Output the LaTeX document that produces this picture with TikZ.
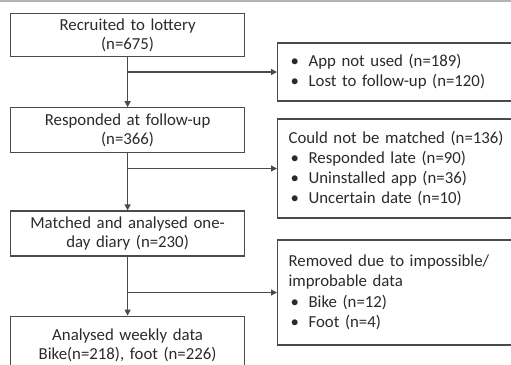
\documentclass[tikz,border=0pt]{standalone}
\usepackage{fontspec}
\setmainfont{Carlito}
\usetikzlibrary{positioning, arrows.meta}
\definecolor{frame}{HTML}{4A4A4A}
\definecolor{ink}{HTML}{2A2A2A}
\definecolor{topline}{HTML}{B4B4B4}
\newcommand{\bulletitem}{\hspace*{2pt}\makebox[18pt][l]{\textbullet}}

\begin{document}
\begin{tikzpicture}[
    x=1pt, y=-1pt,
    >={Triangle[length=6pt, width=6pt]},
    node distance=50pt and 33pt,
    mainbox/.style={draw=frame, line width=1.2pt, text width=222pt, inner xsep=6pt,
                    inner ysep=0pt, align=center, text=ink,
                    font=\fontsize{16.8}{19.5}\selectfont},
    sidebox/.style={draw=frame, line width=1.2pt, text width=221pt, inner xsep=11pt,
                    inner ysep=0pt, align=left, text=ink,
                    font=\fontsize{16.8}{20}\selectfont},
    flow/.style={->, draw=frame, line width=1.2pt},
]
\useasboundingbox (0,0) rectangle (511,364);
\clip (0,0) rectangle (511,364);
\fill[topline] (0,0) rectangle (511,2);

% main column
\node[mainbox, minimum height=43pt, anchor=north west] (recruited) at (10,13)
    {Recruited to lottery\\(n=675)};
\node[mainbox, minimum height=45pt, below=50pt of recruited] (responded)
    {Responded at follow-up\\(n=366)};
\node[mainbox, minimum height=45pt, below=57pt of responded] (matched)
    {Matched and analysed one-\\day diary (n=230)};
\node[mainbox, minimum height=58pt, below=59pt of matched] (weekly)
    {Analysed weekly data\\Bike(n=218), foot (n=226)};

% exclusions
\node[sidebox, minimum height=58pt, anchor=west] (notused) at (277,72)
    {\bulletitem App not used (n=189)\\\bulletitem Lost to follow-up (n=120)};
\node[sidebox, minimum height=99pt, anchor=west] (nomatch) at (277,168.5)
    {Could not be matched (n=136)\\\bulletitem Responded late (n=90)\\
     \bulletitem Uninstalled app (n=36)\\\bulletitem Uncertain date (n=10)};
\node[sidebox, minimum height=105pt, anchor=west] (removed) at (277,292.5)
    {Removed due to impossible/\\improbable data\\[1pt]
     \bulletitem Bike (n=12)\\\bulletitem Foot (n=4)};

\draw[flow] (recruited) -- (responded);
\draw[flow] (responded) -- (matched);
\draw[flow] (matched) -- (weekly);

\draw[flow] (recruited.south |- notused.west) -- (notused.west);
\draw[flow] (responded.south |- nomatch.west) -- (nomatch.west);
\draw[flow] (matched.south |- removed.west) -- (removed.west);
\end{tikzpicture}
\end{document}
